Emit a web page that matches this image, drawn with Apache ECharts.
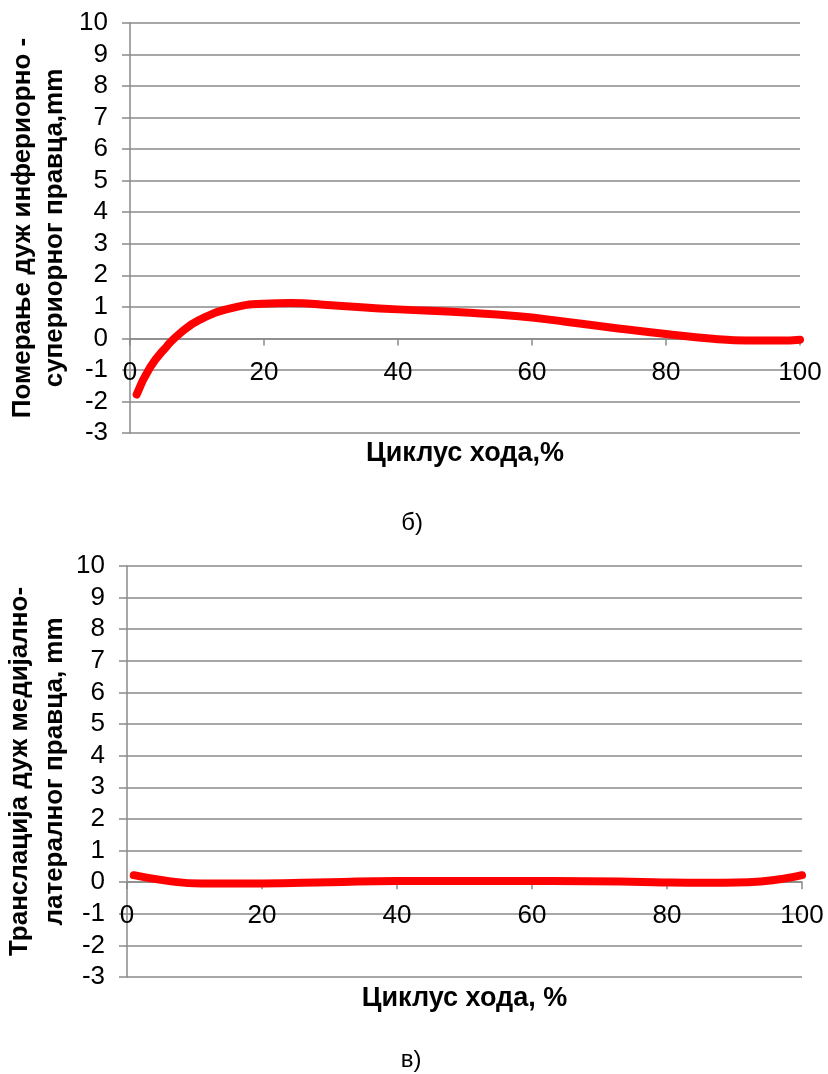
<!DOCTYPE html>
<html>
<head>
<meta charset="utf-8">
<title>Померање и транслација током циклуса хода</title>
<script src="https://cdn.jsdelivr.net/npm/echarts@6/dist/echarts.min.js"></script>
<style>
  html, body { margin: 0; padding: 0; background: #ffffff; }
  #chart { width: 828px; height: 1074px; }
</style>
</head>
<body>
<div id="chart"></div>
<script>
// Gait cycle, % (x positions of each sample)
const cycleInfSup = [1, 3, 5.5, 7.5, 10.5, 15, 20, 24, 30, 40, 50, 58, 65, 72, 80, 87, 92, 97, 100];
// Displacement along the inferior–superior direction, mm
const dispInfSup = [-1.78, -0.92, -0.25, 0.17, 0.6, 0.95, 1.1, 1.12, 1.05, 0.92, 0.82, 0.7, 0.53, 0.34, 0.14, -0.01, -0.07, -0.07, -0.04];

// Gait cycle, % for the medial–lateral curve
const cycleMedLat = [1, 6, 11, 20, 30, 40, 58, 68, 78, 85, 92, 97, 100];
// Translation along the medial–lateral direction, mm
const transMedLat = [0.22, 0.04, -0.04, -0.04, 0.0, 0.04, 0.04, 0.03, 0.0, -0.02, 0.0, 0.1, 0.22];

// Axis ticks
const xTicks = { min: 0, max: 100, interval: 20 };
const yTicks = { min: -3, max: 10, interval: 1 };

const titles = {
  yTop: 'Померање дуж инфериорно -\nсупериорног правца,mm',
  xTop: 'Циклус хода,%',
  capTop: 'б)',
  yBottom: 'Транслација дуж медијално-\nлатералног правца, mm',
  xBottom: 'Циклус хода, %',
  capBottom: 'в)'
};

const FONT = 'Liberation Sans';
const GRID_COLOR = '#8a8a8a';

// plot boxes (px)
const boxes = [
  { left: 130, top: 23, width: 670, height: 410 },
  { left: 127, top: 566, width: 675, height: 411 }
];

function pairs(xs, ys) {
  return xs.map((x, i) => [x, ys[i]]);
}

// the x axis sits on the zero line: lift it from the bottom edge
function zeroLift(box) {
  return -box.height * (0 - yTicks.min) / (yTicks.max - yTicks.min);
}

function xAxisFor(gridIndex, name, nameGap) {
  return {
    type: 'value',
    gridIndex: gridIndex,
    position: 'bottom',
    offset: zeroLift(boxes[gridIndex]),
    min: xTicks.min, max: xTicks.max, interval: xTicks.interval,
    axisLine: { onZero: false, lineStyle: { color: GRID_COLOR, width: 1.5 } },
    axisTick: { show: true, length: 7, lineStyle: { color: GRID_COLOR, width: 1.5 } },
    axisLabel: { color: '#000', fontSize: 26, fontFamily: FONT, margin: 21 },
    splitLine: { show: false },
    name: name,
    nameLocation: 'middle',
    nameGap: nameGap,
    nameMoveOverlap: false,
    nameTextStyle: { color: '#000', fontSize: 27, fontWeight: 'bold', fontFamily: FONT }
  };
}

function yAxisFor(gridIndex, name, nameGap, lineHeight) {
  return {
    type: 'value',
    gridIndex: gridIndex,
    min: yTicks.min, max: yTicks.max, interval: yTicks.interval,
    axisLine: { show: true, onZero: false, lineStyle: { color: GRID_COLOR, width: 1.5 } },
    axisTick: { show: true, length: 8, lineStyle: { color: GRID_COLOR, width: 1.5 } },
    axisLabel: { color: '#000', fontSize: 26, fontFamily: FONT, margin: 22 },
    splitLine: { show: true, lineStyle: { color: GRID_COLOR, width: 1.5 } },
    name: name,
    nameLocation: 'middle',
    nameRotate: 90,
    nameGap: nameGap,
    nameMoveOverlap: false,
    nameTextStyle: { color: '#000', fontSize: 26, fontWeight: 'bold', fontFamily: FONT, lineHeight: lineHeight, align: 'center' }
  };
}

function curve(gridIndex, data) {
  return {
    type: 'line',
    xAxisIndex: gridIndex,
    yAxisIndex: gridIndex,
    data: data,
    smooth: true,
    showSymbol: false,
    lineStyle: { color: '#ff0000', width: 8, cap: 'round', join: 'round' },
    z: 5
  };
}

function caption(text, x, y) {
  return {
    type: 'text',
    x: x, y: y,
    style: {
      text: text,
      fill: '#000',
      font: '24px "Liberation Sans", Arial, sans-serif',
      align: 'center',
      verticalAlign: 'middle'
    }
  };
}

const chart = echarts.init(document.getElementById('chart'), null, { renderer: 'canvas' });
chart.setOption({
  animation: false,
  backgroundColor: '#ffffff',
  graphic: [
    caption(titles.capTop, 412, 523),
    caption(titles.capBottom, 411, 1060)
  ],
  grid: boxes.map(b => Object.assign({ outerBoundsMode: 'none', containLabel: false }, b)),
  xAxis: [xAxisFor(0, titles.xTop, 102), xAxisFor(1, titles.xBottom, 103)],
  yAxis: [yAxisFor(0, titles.yTop, 59, 32), yAxisFor(1, titles.yBottom, 55, 35)],
  series: [
    curve(0, pairs(cycleInfSup, dispInfSup)),
    curve(1, pairs(cycleMedLat, transMedLat))
  ]
});
</script>
</body>
</html>
